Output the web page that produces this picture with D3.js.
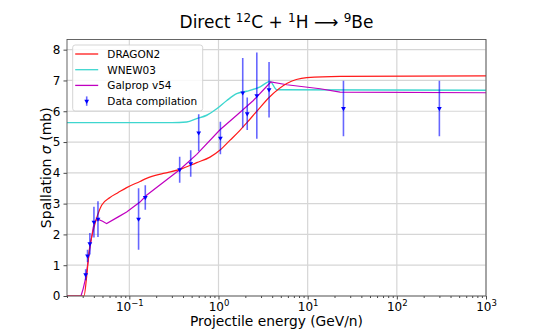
<!DOCTYPE html>
<html>
<head>
<meta charset="utf-8">
<script src="https://cdn.jsdelivr.net/npm/d3@7"></script>
<style>
  html, body { margin: 0; padding: 0; background: #fff; overflow: hidden; }
  svg { display: block; }
  text { font-family: "DejaVu Sans", sans-serif; fill: #000; }
</style>
</head>
<body>
<div id="chart"></div>
<script>
// values (energy in GeV/n, sigma in mb)
const dataEnergy = [0.0324, 0.034, 0.0361, 0.0401, 0.0445, 0.127, 0.151, 0.367, 0.488, 0.600, 1.05, 1.87, 2.1, 2.69, 3.69, 25.2, 300];
const dataSigma  = [0.69, 1.3, 1.7, 2.4, 2.5, 2.5, 3.2, 4.1, 4.3, 5.3, 5.13, 6.6, 5.92, 6.51, 6.7, 6.09, 6.09];
const dataError  = [0.18, 0.2, 0.35, 0.5, 0.58, 1.0, 0.4, 0.42, 0.43, 0.6, 0.53, 1.13, 0.53, 1.4, 0.9, 0.9, 0.9];

const dragonEnergy = [0.02, 0.031, 0.0332, 0.0355, 0.0394, 0.0442, 0.0489, 0.0607, 0.0751, 0.0933, 0.1316, 0.156, 0.24, 0.37, 0.57, 0.803, 1.05, 1.35, 1.74, 2.07, 2.69, 3.79, 5.83, 9.78, 23.1, 1000];
const dragonSigma  = [0, 0, 0.62, 1.48, 2.13, 2.64, 2.95, 3.2, 3.36, 3.52, 3.72, 3.82, 3.98, 4.11, 4.33, 4.51, 4.75, 5.06, 5.38, 5.62, 6.0, 6.48, 6.9, 7.09, 7.13, 7.15];

const wnewEnergy = [0.02, 0.3, 0.44, 0.57, 0.738, 0.955, 1.24, 1.60, 2.07, 2.93, 3.79, 4.5, 1000];
const wnewSigma  = [5.63, 5.63, 5.65, 5.76, 5.87, 6.08, 6.35, 6.57, 6.65, 6.79, 6.97, 6.70, 6.68];

const galpropEnergy = [0.02, 0.0287, 0.0304, 0.0326, 0.0346, 0.0368, 0.0394, 0.0419, 0.0448, 0.0502, 0.0557, 0.0751, 0.0933, 0.1316, 0.156, 0.367, 0.57, 1.04, 1.6, 2.46, 3.86, 5.83, 13.8, 23.1, 1000];
const galpropSigma  = [0, 0, 0.24, 0.62, 1.16, 1.7, 2.24, 2.46, 2.49, 2.43, 2.35, 2.57, 2.73, 3.05, 3.27, 4.1, 4.6, 5.4, 5.87, 6.35, 6.95, 6.86, 6.73, 6.62, 6.60];

const xMajor = [0.1, 1, 10, 100, 1000];
const xMajorExp = ["−1", "0", "1", "2", "3"];
const yTicks = [0, 1, 2, 3, 4, 5, 6, 7, 8];

const legendNames = ["DRAGON2", "WNEW03", "Galprop v54", "Data compilation"];
const colors = { dragon: "#ff1a1a", wnew: "#3ed6cf", galprop: "#c000c0", data: "#0000ff" };

// size of the svg
const w = 540;
const h = 333;
const margin = { top: 39.5, right: 54, bottom: 37, left: 67 };
const innerWidth = w - margin.left - margin.right;
const innerHeight = h - margin.top - margin.bottom;

const xScale = d3.scaleLog().domain([0.02, 1000]).range([0, innerWidth]);
const yScale = d3.scaleLinear().domain([0, 8.33]).range([innerHeight, 0]);

const svg = d3.select("#chart").append("svg")
   .attr("width", w)
   .attr("height", h);

const g = svg.append("g")
   .attr("transform", `translate(${margin.left},${margin.top})`);

// grid
g.append("g").selectAll("line").data(xMajor).enter().append("line")
   .attr("x1", d => xScale(d)).attr("x2", d => xScale(d))
   .attr("y1", 0).attr("y2", innerHeight)
   .attr("stroke", "#d6d6d6").attr("stroke-width", 1.2);
g.append("g").selectAll("line").data(yTicks).enter().append("line")
   .attr("x1", 0).attr("x2", innerWidth)
   .attr("y1", d => yScale(d)).attr("y2", d => yScale(d))
   .attr("stroke", "#d6d6d6").attr("stroke-width", 1.2);

// minor ticks for log axis
const xMinor = [];
[0.01, 0.1, 1, 10, 100].forEach(dec => {
   for (let k = 2; k <= 9; k++) {
      const v = dec * k;
      if (v >= 0.02 && v <= 1000) xMinor.push(v);
   }
});

const xAxis = d3.axisBottom(xScale).tickValues(xMajor).tickSize(3.5).tickPadding(3).tickFormat("");
const xAxisMinor = d3.axisBottom(xScale).tickValues(xMinor).tickSize(2).tickFormat("");
const yAxis = d3.axisLeft(yScale).tickValues(yTicks).tickSize(3.5).tickPadding(3).tickFormat(d3.format("d"));

const gx = g.append("g").attr("transform", `translate(0,${innerHeight})`).call(xAxis);
const gxMinor = g.append("g").attr("transform", `translate(0,${innerHeight})`).call(xAxisMinor);
const gy = g.append("g").call(yAxis);
g.selectAll(".domain").remove();
// drop the empty labels d3 leaves on the x ticks
gx.selectAll(".tick text").remove();
gxMinor.selectAll(".tick text").remove();
g.selectAll(".tick line").attr("stroke", "#333").attr("stroke-width", 0.9);
gy.selectAll("text").attr("font-size", 12).attr("font-family", "DejaVu Sans");

// x tick labels as 10^n
gx.selectAll(".tick").each(function (d, i) {
   const t = d3.select(this).append("text")
      .attr("y", 15)
      .attr("text-anchor", "middle")
      .attr("font-size", 12)
      .attr("fill", "#000");
   t.append("tspan").text("10");
   t.append("tspan").attr("dy", -5).attr("font-size", 8.5).text(xMajorExp[i]);
});

// clip
svg.append("clipPath").attr("id", "plotclip")
   .append("rect").attr("width", innerWidth).attr("height", innerHeight + 1).attr("y", -1);

const plot = g.append("g").attr("clip-path", "url(#plotclip)");

function series(xs, ys) {
   return xs.map((x, i) => [x, ys[i]]);
}

const smoothLine = d3.line()
   .x(d => xScale(d[0]))
   .y(d => yScale(d[1]))
   .curve(d3.curveMonotoneX);
const straightLine = d3.line()
   .x(d => xScale(d[0]))
   .y(d => yScale(d[1]));

plot.append("path")
   .attr("d", smoothLine(series(wnewEnergy, wnewSigma)))
   .attr("fill", "none").attr("stroke", colors.wnew).attr("stroke-width", 1.4);
plot.append("path")
   .attr("d", straightLine(series(galpropEnergy, galpropSigma)))
   .attr("fill", "none").attr("stroke", colors.galprop).attr("stroke-width", 1.2);
plot.append("path")
   .attr("d", smoothLine(series(dragonEnergy, dragonSigma)))
   .attr("fill", "none").attr("stroke", colors.dragon).attr("stroke-width", 1.2);

// data points with error bars
const points = series(dataEnergy, dataSigma).map((p, i) => [p[0], p[1], dataError[i]]);
const tri = d3.symbol().type(d3.symbolTriangle).size(10);

plot.selectAll(".err").data(points).enter().append("line")
   .attr("class", "err")
   .attr("x1", d => xScale(d[0])).attr("x2", d => xScale(d[0]))
   .attr("y1", d => yScale(d[1] - d[2])).attr("y2", d => yScale(d[1] + d[2]))
   .attr("stroke", colors.data).attr("stroke-opacity", 0.6).attr("stroke-width", 1.6);
plot.selectAll(".pt").data(points).enter().append("path")
   .attr("class", "pt")
   .attr("d", tri)
   .attr("transform", d => `translate(${xScale(d[0])},${yScale(d[1])}) rotate(180)`)
   .attr("fill", colors.data);

// frame
g.append("rect")
   .attr("width", innerWidth).attr("height", innerHeight)
   .attr("fill", "none").attr("stroke", "#555").attr("stroke-width", 0.9);

// legend
const legend = svg.append("g").attr("transform", "translate(72.7,45)");
legend.append("rect")
   .attr("width", 130).attr("height", 66).attr("rx", 2.5)
   .attr("fill", "#fff").attr("fill-opacity", 0.85)
   .attr("stroke", "#d0d0d0").attr("stroke-width", 0.9);
const legendColors = [colors.dragon, colors.wnew, colors.galprop];
legendNames.forEach((name, i) => {
   const y = 9 + i * 15.7;
   if (i < 3) {
      legend.append("line")
         .attr("x1", 2.5).attr("x2", 25.5).attr("y1", y).attr("y2", y)
         .attr("stroke", legendColors[i]).attr("stroke-width", 1.3);
   } else {
      legend.append("line")
         .attr("x1", 14).attr("x2", 14).attr("y1", y - 4.7).attr("y2", y + 4.7)
         .attr("stroke", colors.data).attr("stroke-opacity", 0.6).attr("stroke-width", 1.6);
      legend.append("path").attr("d", tri)
         .attr("transform", `translate(14,${y}) rotate(180)`)
         .attr("fill", colors.data);
   }
   legend.append("text")
      .attr("x", 34.6).attr("y", y + 3.8)
      .attr("font-size", 10.5)
      .text(name);
});

// title
const title = svg.append("text")
   .attr("x", margin.left + innerWidth / 2).attr("y", 28)
   .attr("text-anchor", "middle")
   .attr("font-size", 17);
title.append("tspan").text("Direct ");
title.append("tspan").attr("dy", -6).attr("font-size", 12).text("12");
title.append("tspan").attr("dy", 6).text("C + ");
title.append("tspan").attr("dy", -6).attr("font-size", 12).text("1");
title.append("tspan").attr("dy", 6).text("H ⟶ ");
title.append("tspan").attr("dy", -6).attr("font-size", 12).text("9");
title.append("tspan").attr("dy", 6).text("Be");

// axis labels
svg.append("text")
   .attr("x", margin.left + innerWidth / 2).attr("y", 325.5)
   .attr("text-anchor", "middle")
   .attr("font-size", 13.8)
   .text("Projectile energy (GeV/n)");

const ylab = svg.append("text")
   .attr("transform", `translate(51,${margin.top + innerHeight / 2}) rotate(-90)`)
   .attr("text-anchor", "middle")
   .attr("font-size", 14);
ylab.append("tspan").text("Spallation ");
ylab.append("tspan").attr("font-style", "italic").text("σ");
ylab.append("tspan").text(" (mb)");
</script>
</body>
</html>
